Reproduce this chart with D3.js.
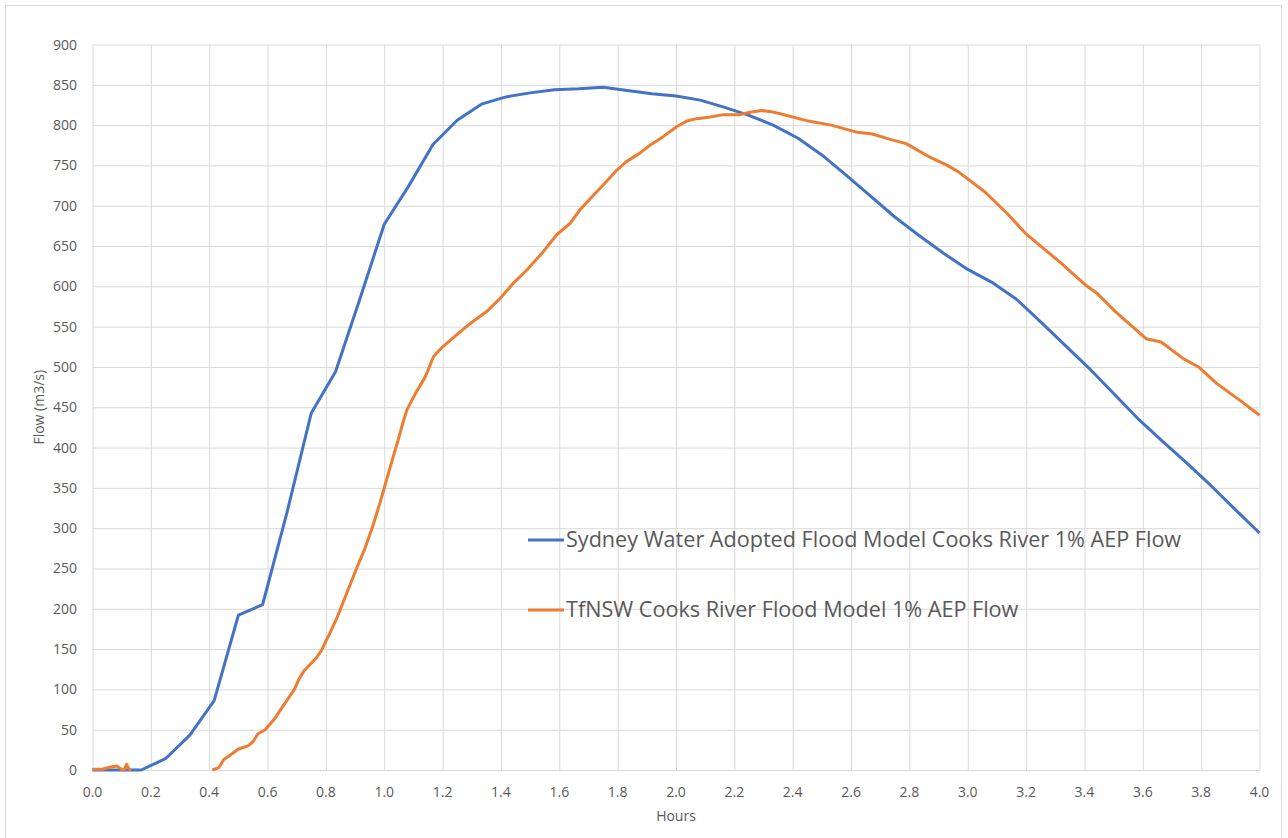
<!DOCTYPE html>
<html>
<head>
<meta charset="utf-8">
<script src="https://cdn.jsdelivr.net/npm/d3@7"></script>
<style>
  body { margin: 0; background: #fff; }
  text { font-family: 'Open Sans', 'Liberation Sans', sans-serif; fill: #595959; }
  .grid line { stroke: #d9d9d9; stroke-width: 1; }
  .grid path { display: none; }
  .series { fill: none; stroke-width: 3; stroke-linejoin: round; }
</style>
</head>
<body>
<svg id="chart" width="1288" height="838"></svg>
<script>
// Data
const X_TICKS = ['0.0', '0.2', '0.4', '0.6', '0.8', '1.0', '1.2', '1.4', '1.6', '1.8', '2.0',
  '2.2', '2.4', '2.6', '2.8', '3.0', '3.2', '3.4', '3.6', '3.8', '4.0'];
const Y_TICKS = [0, 50, 100, 150, 200, 250, 300, 350, 400, 450, 500, 550, 600, 650, 700, 750, 800, 850, 900];

const seriesNames = [
  'Sydney Water Adopted Flood Model Cooks River 1% AEP Flow',
  'TfNSW Cooks River Flood Model 1% AEP Flow',
];
const colors = ['#4472C4', '#ED7D31'];

// Sydney Water model, 5 minute steps
const sydneyHours = [0, 0.083, 0.167, 0.25, 0.333, 0.417, 0.5, 0.583, 0.667, 0.75, 0.833, 0.917,
  1.0, 1.083, 1.167, 1.25, 1.333, 1.417, 1.5, 1.583, 1.667, 1.75, 1.833, 1.917,
  2.0, 2.083, 2.167, 2.25, 2.333, 2.417, 2.5, 2.583, 2.667, 2.75, 2.833, 2.917,
  3.0, 3.083, 3.167, 3.25, 3.333, 3.417, 3.5, 3.583, 3.667, 3.75, 3.833, 3.917, 4.0];
const sydneyFlow = [0, 0, 0, 14, 43, 86, 192, 205, 320, 443, 494, 585,
  677, 724, 776, 806, 826, 835, 840, 844, 845, 847, 843, 839,
  836, 831, 822, 812, 800, 784, 763, 738, 712, 686, 663, 641,
  621, 605, 584, 556, 527, 498, 467, 436, 408, 381, 353, 323, 294];

// TfNSW model (null = no value drawn)
const tfnswHours = [0, 0.033, 0.067, 0.083, 0.092, 0.1, 0.108, 0.117, 0.125, 0.133, 0.2,
  0.411, 0.433, 0.45, 0.467, 0.5, 0.533, 0.55, 0.567, 0.592, 0.625, 0.658, 0.692, 0.708, 0.725,
  0.767, 0.786, 0.8, 0.814, 0.837, 0.871, 0.905, 0.934, 0.962, 0.985, 1.008, 1.031, 1.048,
  1.065, 1.078, 1.107, 1.141, 1.169, 1.2, 1.249, 1.295, 1.352, 1.397, 1.443, 1.488, 1.545,
  1.591, 1.637, 1.671, 1.717, 1.751, 1.797, 1.831, 1.871, 1.911, 1.957, 2.002, 2.037, 2.071,
  2.117, 2.162, 2.219, 2.254, 2.294, 2.322, 2.357, 2.454, 2.532, 2.622, 2.673, 2.737, 2.789,
  2.866, 2.93, 2.968, 3.059, 3.136, 3.2, 3.316, 3.406, 3.444, 3.508, 3.611, 3.663, 3.74,
  3.791, 3.855, 3.939, 4.0];
const tfnswFlow = [1, 1, 4, 5, 3, 0, 0, 7, 1, 0, null,
  0, 3, 13, 17, 26, 30, 35, 45, 50, 64, 82, 100, 113, 123,
  139, 149, 160, 170, 188, 219, 250, 275, 304, 331, 360, 389, 410,
  432, 447, 467, 488, 513, 525, 540, 554, 569, 585, 604, 620, 643,
  664, 678, 695, 713, 726, 744, 755, 764, 775, 786, 798, 805, 808,
  810, 813, 813, 816, 818, 817, 814, 805, 800, 791, 789, 782, 777,
  761, 750, 742, 717, 690, 665, 630, 601, 591, 568, 535, 531, 510,
  500, 479, 457, 440];

const margin = { left: 92.5, top: 44.5, right: 28, bottom: 68 };
const width = 1259.5 - margin.left;
const height = 770 - margin.top;

function toPoints(hours, flow) {
  return hours.map((h, i) => ({ hour: h, flow: flow[i] }));
}

function showChart() {
  const root = d3.select('#chart');

  // outer chart border
  root.append('rect')
    .attr('x', 5.5).attr('y', 5.5)
    .attr('width', 1276).attr('height', 845)
    .attr('fill', 'none').attr('stroke', '#d9d9d9');

  const svg = root.append('g')
    .attr('transform', 'translate(' + margin.left + ',' + margin.top + ')');

  const xScale = d3.scaleLinear().domain([0, 4]).range([0, width]);
  const yScale = d3.scaleLinear().domain([0, 900]).range([height, 0]);

  //Draw Grid
  svg.append('g').attr('class', 'grid')
    .call(d3.axisLeft(yScale).tickValues(Y_TICKS).tickSize(-width).tickFormat(''));
  svg.append('g').attr('class', 'grid')
    .attr('transform', 'translate(0,' + height + ')')
    .call(d3.axisBottom(xScale).tickValues(X_TICKS.map(Number)).tickSize(-height).tickFormat(''));

  //Draw Axis labels
  svg.append('g').selectAll('text')
    .data(Y_TICKS).enter().append('text')
    .attr('x', -15.5)
    .attr('y', d => yScale(d) + 5)
    .attr('text-anchor', 'end')
    .style('font-size', '14px')
    .text(d => d);

  svg.append('g').selectAll('text')
    .data(X_TICKS).enter().append('text')
    .attr('x', d => xScale(+d))
    .attr('y', height + 27)
    .attr('text-anchor', 'middle')
    .style('font-size', '14px')
    .text(d => d);

  svg.append('text')
    .attr('transform', 'translate(' + (-49) + ',' + (height / 2) + ') rotate(-90)')
    .attr('text-anchor', 'middle')
    .style('font-size', '14px')
    .text('Flow (m3/s)');

  svg.append('text')
    .attr('x', width / 2)
    .attr('y', height + 51)
    .attr('text-anchor', 'middle')
    .style('font-size', '14px')
    .text('Hours');

  //Draw Lines
  const line = d3.line()
    .defined(d => d.flow !== null)
    .x(d => xScale(d.hour))
    .y(d => yScale(d.flow));

  const allSeries = [toPoints(sydneyHours, sydneyFlow), toPoints(tfnswHours, tfnswFlow)];

  svg.append('g').selectAll('path')
    .data(allSeries).enter().append('path')
    .attr('class', 'series')
    .attr('stroke', (d, i) => colors[i])
    .attr('d', line);

  //Legend
  const legend = root.append('g').attr('class', 'legend');
  const legendY = [540, 610];
  seriesNames.forEach((name, i) => {
    legend.append('line')
      .attr('x1', 528).attr('x2', 564)
      .attr('y1', legendY[i]).attr('y2', legendY[i])
      .attr('stroke', colors[i]).attr('stroke-width', 3);
    const t = legend.append('text')
      .attr('x', 566)
      .attr('y', legendY[i] + 7)
      .style('font-size', '20px')
      .text(name);
    if (i === 0) {
      // fit the long label to the reference width
      const len = t.node().getComputedTextLength();
      legend.attr('data-scale', 616 / len);
    }
  });
  const k = +legend.attr('data-scale');
  legend.selectAll('text').style('font-size', (20 * k).toFixed(1) + 'px');
}

showChart();
</script>
</body>
</html>
